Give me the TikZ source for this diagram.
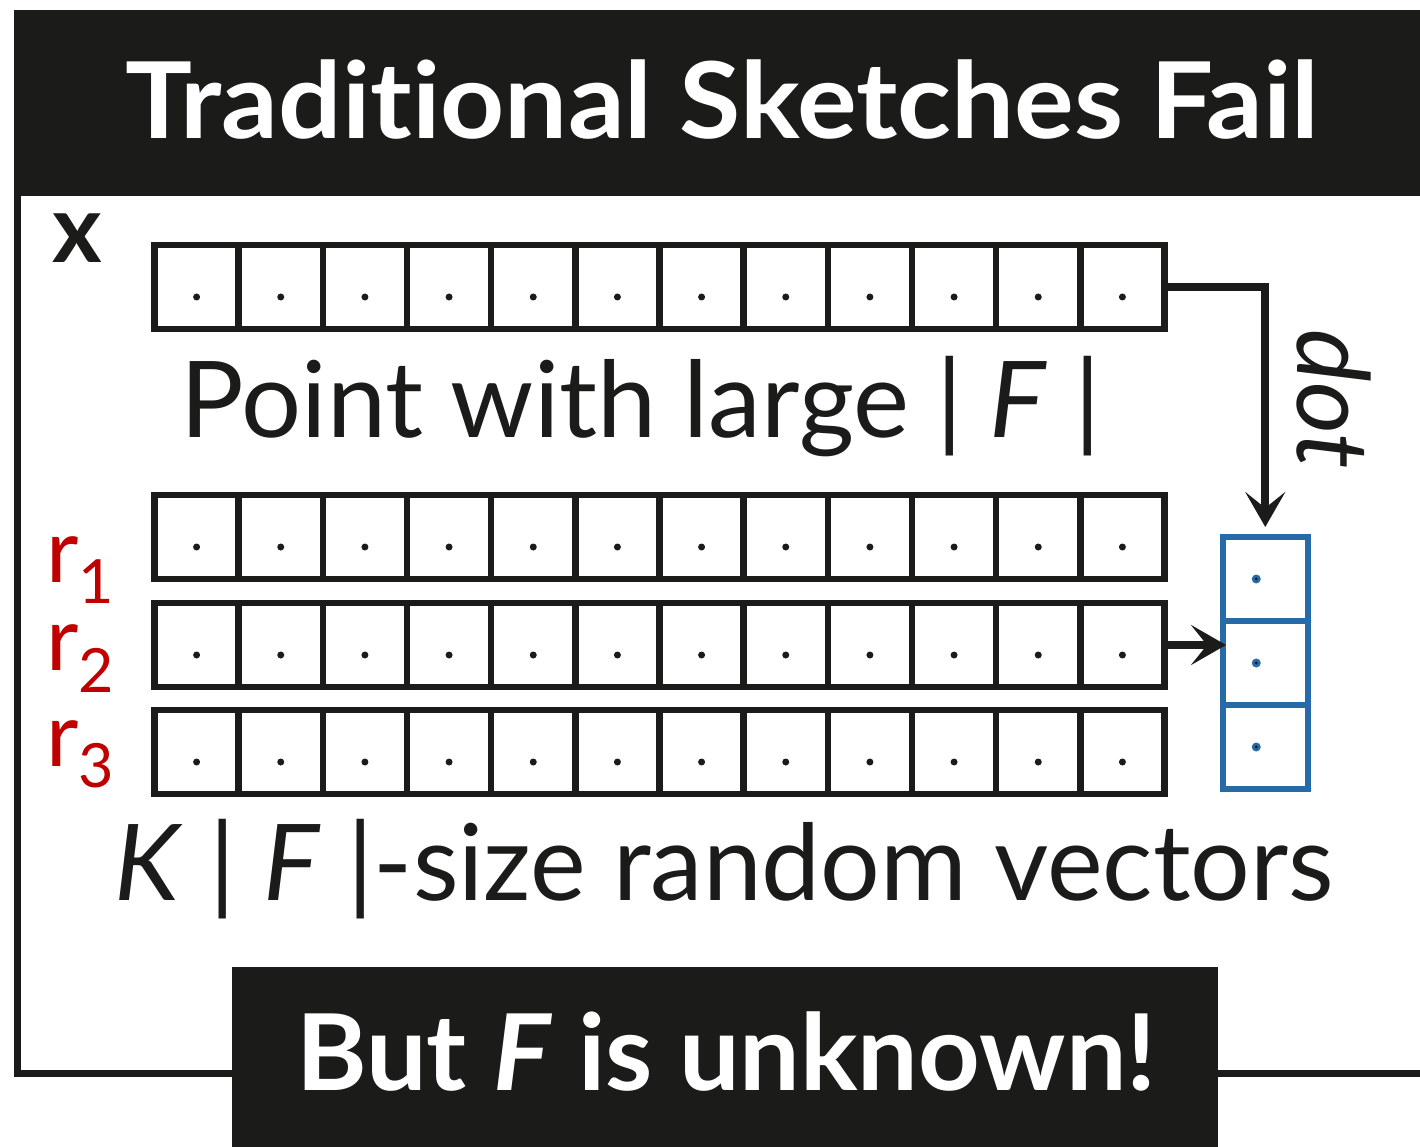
\documentclass[tikz,border=0pt]{standalone}
\usepackage{fontspec}
\setmainfont{Lato}[Ligatures={NoCommon,NoRare,NoContextual}]
\usetikzlibrary{arrows.meta,calc}
\definecolor{ink}{RGB}{27,28,25}
\definecolor{bluec}{RGB}{38,106,167}
\definecolor{redc}{RGB}{192,0,0}
\begin{document}
\begin{tikzpicture}[x=1pt,y=-1pt,
  cell/.style={draw=ink,line width=6.5pt,minimum width=84.17pt,minimum height=84pt,inner sep=0pt,outer sep=0pt},
  bcell/.style={draw=bluec,line width=6pt,minimum width=84.5pt,minimum height=84pt,inner sep=0pt,outer sep=0pt},
  lbl/.style={text=ink,inner sep=0pt,font=\fontsize{106}{120}\selectfont},
  ttl/.style={text=white,inner sep=0pt,font=\fontsize{106}{120}\selectfont\bfseries},
  rlbl/.style={text=redc,inner sep=0pt,anchor=base west,font=\fontsize{89}{100}\selectfont},
  conn/.style={draw=ink,line width=8pt,-{Stealth[length=35pt,width=40pt,inset=16pt]}},
  bar/.style={fill=ink}]
\useasboundingbox (0,0) rectangle (1420,1147);
\clip (0,0) rectangle (1420,1147);
% frame
\draw[ink,line width=7pt] (17.5,120) rectangle (1460,1073.5);
% title bar
\fill[bar] (14,10) rectangle (1460,196);
\node[ttl,anchor=base] (title) at (722,139) {\scalebox{1.055}[1]{Traditional Sketches Fail}};
% bottom bar
\fill[bar] (232,967) rectangle (1218,1170);
\node[ttl,anchor=base] (but) at (726.5,1090) {\scalebox{1.015}[1]{But \textit{F} is unknown!}};
% x label
\node[anchor=base,text=ink,inner sep=0pt,font=\fontsize{95}{100}\selectfont\bfseries] (xl) at (77,263) {x};
% vectors
\foreach \r/\yy in {t/287, a/537, b/645, c/752} {
  \foreach \i in {1,...,12} {
    \node[cell] (\r\i) at ({154.5+84.1667*(\i-0.5)}, \yy) {};
    \fill[ink] ($(\r\i.center)+(0,10)$) circle (3.5pt);
  }
}
% blue result vector
\foreach \i/\yy in {1/579, 2/663, 3/747} {
  \node[bcell] (q\i) at (1265.25,\yy) {};
  \fill[bluec] ($(q\i.center)+(-9,0)$) circle (4.5pt);
  \fill[ink] ($(q\i.center)+(-9,0)$) circle (1.6pt);
}
% labels
\node[lbl,anchor=base] (pt) at (641,437) {Point with large | \textit{F} |};
\node[lbl,anchor=base] (kf) at (724,900) {\scalebox{0.994}[1]{\textit{K} | \textit{F} |-size random vectors}};
\node[lbl,anchor=base,rotate=-90] (dl) at (1297,399) {\fontsize{100}{110}\selectfont\textit{dot}};
\node[rlbl] (r1) at (46,582) {r\raisebox{-21pt}{\fontsize{61}{61}\selectfont 1}};
\node[rlbl] (r2) at (46,670) {r\raisebox{-22pt}{\fontsize{61}{61}\selectfont 2}};
\node[rlbl] (r3) at (46,766) {r\raisebox{-21pt}{\fontsize{61}{61}\selectfont 3}};
% connectors
\draw[conn,shorten >=10pt] (t12.east) -- (t12.east -| q1.north) -- (q1.north);
\draw[conn,shorten >=-3pt] (b12.east) -- (b12.east -| q2.west);
\end{tikzpicture}
\end{document}
